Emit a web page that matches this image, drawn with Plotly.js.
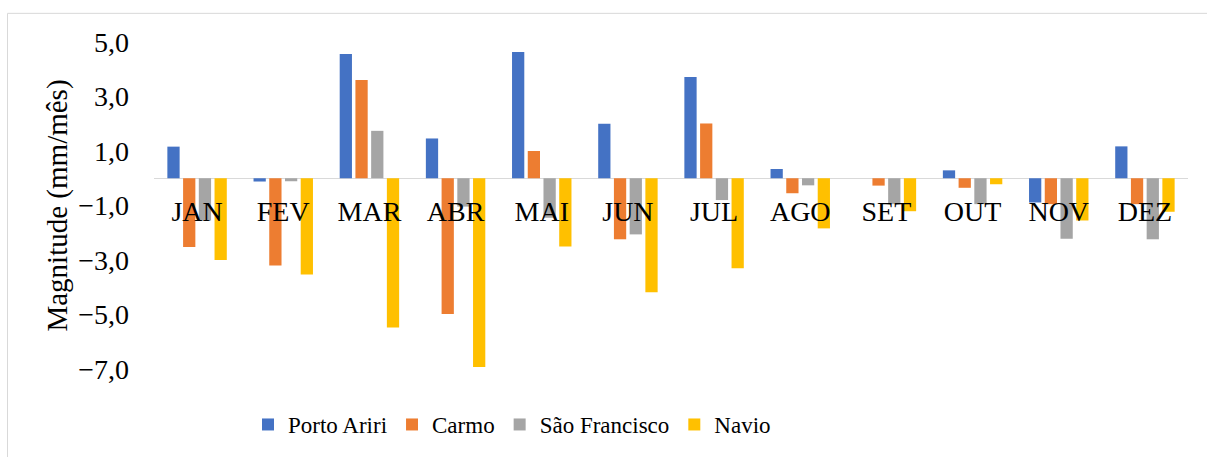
<!DOCTYPE html>
<html>
<head>
<meta charset="utf-8">
<script src="https://cdn.plot.ly/plotly-3.0.1.min.js"></script>
<style>
html,body{margin:0;padding:0;background:#fff;}
#chart{width:1207px;height:457px;}
</style>
</head>
<body>
<div id="chart"></div>
<script>
const months = ["JAN","FEV","MAR","ABR","MAI","JUN","JUL","AGO","SET","OUT","NOV","DEZ"];
const seriesNames = ["Porto Ariri","Carmo","São Francisco","Navio"];
const portoAriri   = [1.16, -0.12, 4.56, 1.46, 4.63, 2.00, 3.72, 0.34, 0.00, 0.29, -0.89, 1.17];
const carmo        = [-2.52, -3.20, 3.61, -4.98, 1.00, -2.24, 2.01, -0.55, -0.27, -0.35, -0.95, -0.95];
const saoFrancisco = [-1.55, -0.11, 1.74, -1.04, -1.45, -2.06, -0.80, -0.26, -0.95, -0.95, -2.22, -2.24];
const navio        = [-3.00, -3.53, -5.48, -6.93, -2.50, -4.18, -3.30, -1.84, -1.21, -0.22, -1.55, -1.23];
const colors = ["#4472C4","#ED7D31","#A5A5A5","#FFC000"];
const allSeries = [portoAriri, carmo, saoFrancisco, navio];

const font = "Liberation Serif";
const traces = allSeries.map((vals, i) => ({
  type: "bar",
  name: seriesNames[i],
  x: months,
  y: vals,
  marker: {color: colors[i], line: {width: 0}},
  hoverinfo: "x+y+name"
}));

const L = 154, R = 1188, T = 42.25, B = 370.45, W = 1207, H = 457;
const px = v => (v - L) / (R - L);
const py = v => (B - v) / (B - T);

const layout = {
  width: W, height: H,
  margin: {l: L, r: W - R, t: T, b: H - B, pad: 0},
  paper_bgcolor: "#fff",
  plot_bgcolor: "#fff",
  separators: ",.",
  font: {family: font, color: "#000", size: 28},
  barmode: "group",
  bargap: 0.27,
  bargroupgap: 0.22,
  showlegend: true,
  legend: {
    orientation: "h",
    x: px(248), xanchor: "left",
    y: py(425), yanchor: "middle",
    font: {family: font, size: 23, color: "#000"},
    itemclick: false, itemdoubleclick: false,
    traceorder: "normal",
    itemwidth: 30
  },
  xaxis: {
    type: "category",
    anchor: "free",
    position: 7/12,
    showline: false,
    showgrid: false,
    zeroline: false,
    ticks: "",
    ticklabelstandoff: 14,
    tickfont: {family: font, size: 28, color: "#000"},
    automargin: false,
    fixedrange: true
  },
  yaxis: {
    range: [-7, 5],
    tick0: -7, dtick: 2,
    tickformat: ".1f",
    showgrid: false,
    showline: false,
    zeroline: true,
    zerolinecolor: "#d9d9d9",
    zerolinewidth: 1.5,
    ticks: "",
    ticklabelstandoff: 24,
    tickfont: {family: font, size: 28, color: "#000"},
    title: {text: "Magnitude (mm/mês)", font: {family: font, size: 29, color: "#000"}, standoff: 2},
    automargin: false,
    fixedrange: true
  },
  shapes: [{
    type: "rect", xref: "paper", yref: "paper",
    x0: px(7.5), x1: px(1300), y0: py(600), y1: py(13.5),
    line: {color: "#d9d9d9", width: 1}, fillcolor: "rgba(0,0,0,0)", layer: "below"
  }]
};

Plotly.newPlot("chart", traces, layout, {displayModeBar: false, staticPlot: true});
</script>
</body>
</html>
